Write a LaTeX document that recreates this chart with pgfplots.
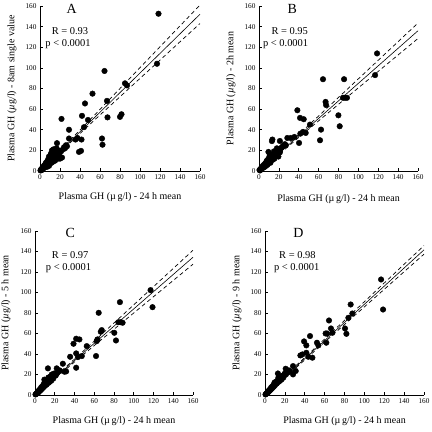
\documentclass[border=0pt]{standalone}
\usepackage{fontspec}
\setmainfont{Liberation Serif}
\usepackage{pgfplots}
\pgfplotsset{compat=1.18}
\pgfplotsset{
  panel/.style={
    scale only axis,
    xmin=0, xmax=160, ymin=0, ymax=160,
    axis lines*=left,
    axis line style={line width=0.7pt},
    tick align=inside,
    major tick length=3bp,
    tick style={line width=0.6pt, black},
    xtick={0,20,...,160}, ytick={0,20,...,160},
    tick label style={font=\fontsize{7.3}{8}\selectfont},
    /pgf/number format/assume math mode=true,
    label style={font=\fontsize{10}{12}\selectfont},
    xlabel={Plasma GH (µ\,g/l) - 24 h mean},
    clip=false,
  },
}
\tikzset{
  pts/.style={only marks, mark=*, mark size=2.8bp, black},
  reg/.style={black, line width=0.6pt},
  band/.style={black, line width=0.7pt, dash pattern=on 4bp off 3bp},
  lett/.style={font=\fontsize{14}{16}\selectfont},
  stat/.style={font=\fontsize{10.5}{12}\selectfont},
}
\begin{document}
\begin{tikzpicture}
\useasboundingbox (0,0) rectangle (432bp,432bp);
% ---------------- A ----------------
\begin{axis}[panel, at={(40bp,261bp)}, anchor=south west, width=160bp, height=165bp,
  xlabel style={at={(axis description cs:0.5,-0.158)}, anchor=center},
  ylabel={Plasma GH (\textit{µ}g/l) - 8am single value},
  ylabel style={at={(axis description cs:-0.175,0.5)}, anchor=center}]
\addplot[pts] coordinates {
(118.5,152.5)(117,104)(87,83)(85,85)(81.5,55)(80,52.5)(67.5,52)(67,68)(64.5,97)
(62.5,25.5)(62,31.5)(52.5,75)(48,49.5)(45,65.5)(44,42.5)(42,53.5)(41.5,30.5)
(41,19.5)(39,18.5)(37.5,32)(35.5,30.5)(29,40)(29,31.5)(21.5,50.5)
(0.5,0.5)(1,1.5)(1.5,0.8)(2,2.5)(2.5,1.5)(3,4)(3,2)(3.5,3)(4,5)(4.5,3.5)(5,6)(5,4)
(5.5,7)(6,5)(6,8)(6.5,6)(7,9)(7,4)(7.5,7)(8,11)(8,6)(8.5,9)(9,14)(9,5)(9.5,8)
(10,12)(10,7)(10.5,15)(11,10)(11,17)(11.5,8)(12,13)(12,20)(12.5,11)(13,16)(13,9)
(13.5,21)(14,12)(14,18)(15,14)(15,10)(15.5,19)(16,13)(16.5,22)(17,27)(17,16)(18,12)
(18.5,20)(19,15)(19.5,18)(20,12)(21,19)(22,13)(23,21)(24,23)(25,22)(26,25)(27,24)
};
\addplot[reg] coordinates {(0,0)(160,152)};
\addplot[band] coordinates {(0,1.6)(20,20)(40,39.6)(60,59.7)(80,80)(100,100.2)(120,120.5)(140,140.7)(159,160)};
\addplot[band] coordinates {(0,-1.6)(20,18)(40,36.4)(60,54.3)(80,72)(100,89.8)(120,107.5)(140,125.3)(160,143)};
\node[lett] at (axis cs:31.7,157.6) {A};
\node[stat] at (axis cs:30,135.6) {R = 0.93};
\node[stat] at (axis cs:28,122.6) {p < 0.0001};
\end{axis}
% ---------------- B ----------------
\begin{axis}[panel, at={(259bp,261bp)}, anchor=south west, width=159bp, height=165bp,
  xlabel style={at={(axis description cs:0.5,-0.17)}, anchor=center},
  ylabel={Plasma GH (\textit{µ}g/l) - 2h mean},
  ylabel style={at={(axis description cs:-0.176,0.5)}, anchor=center}]
\addplot[pts] coordinates {
(118.8,114)(116.8,93)(85.6,89)(64.4,89)(84.5,71)(86.5,71)(88.5,71)(67,67)(67.5,64)
(79.9,54)(81.2,43.4)(62.4,40.1)(61.4,29.8)(38.6,58.9)(41.3,51.5)(45,50.2)(47,36.9)
(40.3,27.2)(51.3,45)(41.6,36.2)(44.3,37.9)(35.6,33)(28.5,32)(31.9,32)(21,29.1)
(0.5,1)(1,0.5)(1.5,2)(2,1.5)(2.5,3)(3,2.5)(3,4)(3.5,3)(4,5)(4.5,4)(5,6)(5,3.5)
(5.5,5)(6,7)(6,4.5)(6.5,6)(7,8)(7,5)(7.5,9)(8,7)(8,10)(8.5,6)(9,11)(9,8)(9.5,18.5)
(10,12)(10,9)(10.5,14)(11,10)(11,16)(11.5,8)(12,13)(12,10)(12.5,15)(13,29)(13.5,30.5)
(13,12)(14,16)(14,11)(15,14)(15,19)(15.5,12)(16,17)(16.5,14)(17,18)(17,15)(18,22)
(18.5,16)(19,20)(19.5,14)(20,21)(21,18)(22,22)(23,23)(24,24)(25,25)(26,26)(27,25)
};
\addplot[reg] coordinates {(0,0)(160,136)};
\addplot[band] coordinates {(0,1.46)(20,18)(40,35.46)(60,53.35)(80,71.33)(100,89.36)(120,107.4)(140,125.44)(160,143.5)};
\addplot[band] coordinates {(0,-1.46)(20,16)(40,32.54)(60,48.65)(80,64.67)(100,80.64)(120,96.6)(140,112.56)(160,128.5)};
\node[lett] at (axis cs:33.6,157.6) {B};
\node[stat] at (axis cs:30.9,135.6) {R = 0.95};
\node[stat] at (axis cs:26.8,122.6) {p < 0.0001};
\end{axis}
% ---------------- C ----------------
\begin{axis}[panel, at={(35bp,37bp)}, anchor=south west, width=158bp, height=164bp,
  xlabel style={at={(axis description cs:0.5,-0.158)}, anchor=center},
  ylabel={Plasma GH (\textit{µ}g/l) - 5 h mean},
  ylabel style={at={(axis description cs:-0.183,0.5)}, anchor=center}]
\addplot[pts] coordinates {
(117,102.3)(119,85.7)(86,90.6)(64.5,80.2)(84.4,71)(86.7,71)(88.7,70.5)(67.6,63.3)
(66.6,61.7)(80.3,60.7)(82,53.2)(62.5,52.6)(63.2,54.2)(61.8,38)(52.4,47.7)(41.7,54.9)
(45,54.2)(39,50)(41.7,40.6)(43.4,37)(41.7,26.6)(35.6,37.3)(47.4,38)(28.2,30.5)
(29.9,22.7)(13.1,26)(31.5,23)(25,24)
(0.5,0.5)(1,1)(1.5,1.2)(2,2)(2.5,2.5)(3,3.5)(3,2)(3.5,3)(4,4.5)(4.5,4)(5,5.5)(5,4)
(5.5,5)(6,7)(6,5)(6.5,6)(7,8)(7,6)(7.5,7)(8,9)(8,7)(8.5,8)(9,11)(9,8)(9.5,15)
(10,11)(10,9)(10.5,13)(11,10)(11,14)(11.5,10)(12,13)(12,11)(12.5,15)(13,12)(13.5,17)
(14,14)(14,12)(15,15)(15,13)(15.5,18)(16,16)(16.5,14)(17,17)(17,20)(18,18)(18.5,16)
(19,19)(19.5,21)(20,20)(21,19)(22,26)(22,21)(23,22)(24,23)
};
\addplot[reg] coordinates {(0,0)(160,134.4)};
\addplot[band] coordinates {(0,1.39)(20,17.8)(40,34.99)(60,52.57)(80,70.25)(100,87.97)(120,105.7)(140,123.45)(160,141.2)};
\addplot[band] coordinates {(0,-1.39)(20,15.8)(40,32.21)(60,48.23)(80,64.15)(100,80.03)(120,95.9)(140,111.75)(160,127.6)};
\node[lett] at (axis cs:35.6,158) {C};
\node[stat] at (axis cs:35.6,136.4) {R = 0.97};
\node[stat] at (axis cs:33.9,123.4) {p < 0.0001};
\end{axis}
% ---------------- D ----------------
\begin{axis}[panel, at={(265bp,37bp)}, anchor=south west, width=159bp, height=164bp,
  xlabel style={at={(axis description cs:0.5,-0.158)}, anchor=center},
  ylabel={Plasma GH (\textit{µ}g/l) - 9 h mean},
  ylabel style={at={(axis description cs:-0.176,0.5)}, anchor=center}]
\addplot[pts] coordinates {
(116.8,112.7)(118.8,83.4)(86.2,88.3)(87.9,79.5)(83.9,75.3)(64.4,72.7)(66.4,64.9)
(67.8,60.7)(80.5,64.9)(81.9,59.7)(62.4,60)(61,60)(61.7,51)(52.3,51)(53.7,48.4)
(45.3,57.5)(39.3,52.3)(41.6,48.4)(35.6,38.6)(37.6,39.6)(41.6,41.2)(43.6,37.3)
(47.7,36.4)(28.2,28.2)(28.2,20.1)(30.9,23.4)(20.8,25.6)(25,23)
(0.5,0.5)(1,1)(1.5,1.5)(2,2)(2.5,2.5)(3,3.5)(3,2.5)(3.5,3.5)(4,4.5)(4.5,4)(5,5.5)
(5,4.5)(5.5,5.5)(6,7)(6,5.5)(6.5,6.5)(7,8)(7,6.5)(7.5,7.5)(8,9)(8,7.5)(8.5,8.5)
(9,10)(9,8.5)(9.5,12)(10,11)(10,9.5)(10.5,12)(11,11)(11,13)(11.5,11)(12,13)(12,11.5)
(12.5,14)(13,13)(13.5,17)(13,21)(14,15)(14,13)(15,16)(15,14)(15.5,18)(16,16)
(16.5,15)(17,18)(17,16)(18,19)(18.5,17)(19,19)(19.5,20)(20,21)(21,20)(22,22)
(23,22)(24,24)
};
\addplot[reg] coordinates {(0,0)(160,141.6)};
\addplot[band] coordinates {(0,1.16)(20,18.7)(40,36.56)(60,54.64)(80,72.81)(100,91.03)(120,109.28)(140,127.53)(160,145.8)};
\addplot[band] coordinates {(0,-1.16)(20,16.7)(40,34.24)(60,51.56)(80,68.79)(100,85.97)(120,103.12)(140,120.27)(160,137.4)};
\node[lett] at (axis cs:33.6,158) {D};
\node[stat] at (axis cs:32.6,136.4) {R = 0.98};
\node[stat] at (axis cs:31.9,123.4) {p < 0.0001};
\end{axis}
\end{tikzpicture}
\end{document}
